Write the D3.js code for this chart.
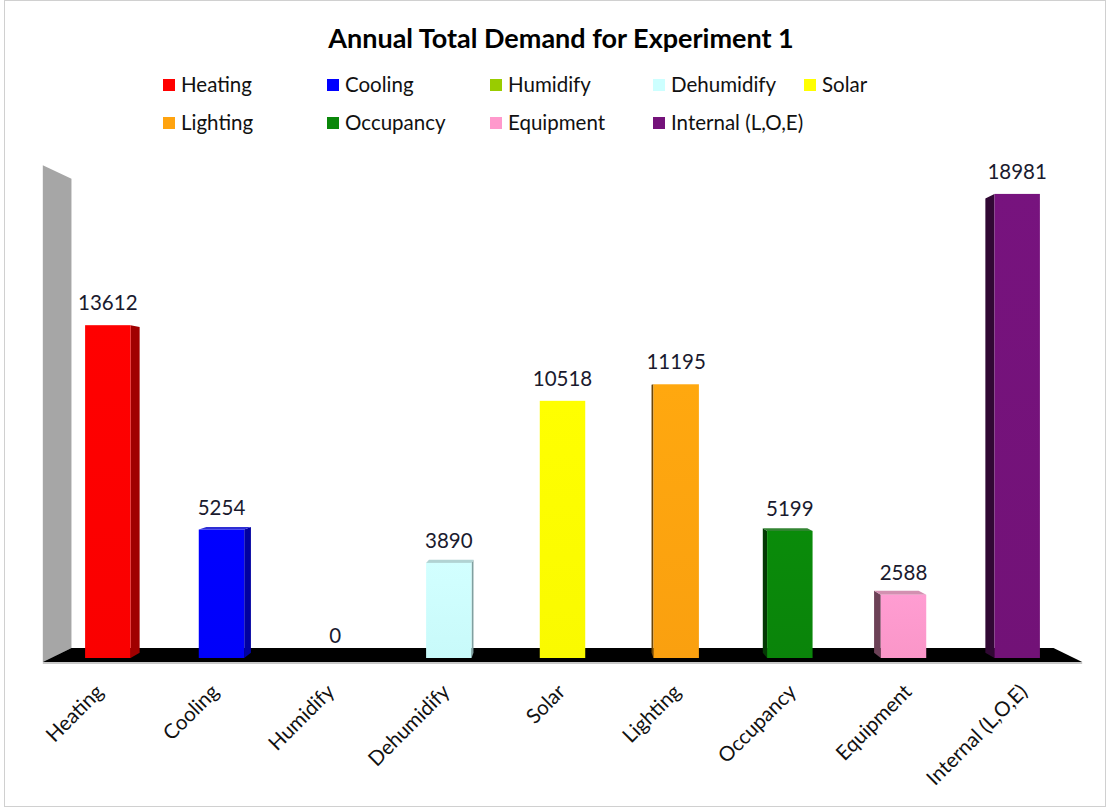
<!DOCTYPE html>
<html>
<head>
<meta charset="utf-8">
<script src="https://cdn.jsdelivr.net/npm/d3@7"></script>
<style>
  body { margin: 0; background: #fff; }
  svg { display: block; font-family: Lato, "Open Sans", sans-serif; }
</style>
</head>
<body>
<script>
// chart data
var categories = ["Heating", "Cooling", "Humidify", "Dehumidify", "Solar", "Lighting", "Occupancy", "Equipment", "Internal (L,O,E)"];
var values = [13612, 5254, 0, 3890, 10518, 11195, 5199, 2588, 18981];
var colors = ["#ff0000", "#0000ff", "#99cc00", "#ccffff", "#ffff00", "#ffa30f", "#0a870a", "#ff99cc", "#74127a"];
var yDomain = [0, 20000];

var w = 1110, h = 808;

var svg = d3.select("body").append("svg")
  .attr("width", w)
  .attr("height", h);

// outer frame
svg.append("rect")
  .attr("x", 4.5).attr("y", 0.5)
  .attr("width", w - 9).attr("height", h - 2)
  .attr("fill", "none")
  .attr("stroke", "#d0d0d0");

svg.append("text")
  .attr("x", 561).attr("y", 48)
  .attr("text-anchor", "middle")
  .attr("font-size", 27)
  .attr("font-weight", "bold")
  .attr("fill", "#000")
  .text("Annual Total Demand for Experiment 1");

// legend, two rows of five / four
var legend = svg.append("g");
var legX = [163, 327, 490, 653, 804];
categories.forEach(function (c, i) {
  var row = i < 5 ? 0 : 1;
  var col = i < 5 ? i : i - 5;
  var g = legend.append("g")
    .attr("transform", "translate(" + legX[col] + "," + (85 + row * 38) + ")");
  g.append("rect")
    .attr("x", 0).attr("y", -6)
    .attr("width", 12).attr("height", 12)
    .attr("fill", colors[i]);
  g.append("text")
    .attr("x", 18).attr("y", 0)
    .attr("dy", "0.35em")
    .attr("font-size", 20.5)
    .attr("fill", "#111")
    .text(c);
});

var x = d3.scaleBand()
  .domain(categories)
  .range([51, 1074])
  .paddingInner(0.6)
  .paddingOuter(0.3);

var y = d3.scaleLinear()
  .domain(yDomain)
  .range([658, 169]);

// simple perspective: points pulled toward vanishing point
var vp = { x: (x.range()[0] + x.range()[1]) / 2, y: 410 };
function proj(px, py, s) {
  return [vp.x + (px - vp.x) * s, vp.y + (py - vp.y) * s];
}
function poly(pts) {
  return "M" + pts.map(function (p) { return p[0] + "," + p[1]; }).join("L") + "Z";
}

var sFront = 1.016, sBack = 0.96, sBar = 0.979;
var x0 = x.range()[0], x1 = x.range()[1];
var y0 = y(0), yTop = y(yDomain[1]);

// side wall (left)
svg.append("path")
  .attr("d", poly([proj(x0, y0, sFront), proj(x0, yTop, sFront), proj(x0, yTop, sBack), proj(x0, y0, sBack)]))
  .attr("fill", "#a6a6a6");

// floor shadow line + floor
var fl = proj(x0, y0, sFront), fr = proj(x1, y0, sFront);
svg.append("path")
  .attr("d", poly([fl, fr, [fr[0], fr[1] + 2], [fl[0], fl[1] + 2]]))
  .attr("fill", "#c8c8c8");
svg.append("path")
  .attr("d", poly([fl, fr, proj(x1, y0, sBack), proj(x0, y0, sBack)]))
  .attr("fill", "#000");

// light vertical gradient on front faces
var defs = svg.append("defs");
colors.forEach(function (c, i) {
  var gr = defs.append("linearGradient")
    .attr("id", "g" + i)
    .attr("x1", 0).attr("y1", 0).attr("x2", 0).attr("y2", 1);
  gr.append("stop").attr("offset", 0).attr("stop-color", d3.color(c).brighter(0.08));
  gr.append("stop").attr("offset", 1).attr("stop-color", d3.color(c).darker(0.06));
});

var bars = svg.append("g");
categories.forEach(function (c, i) {
  var v = values[i];
  if (v <= 0) return;
  var bx0 = x(c), bx1 = x(c) + x.bandwidth();
  var top = y(v), bot = y(0);
  var col = d3.color(colors[i]);
  var g = bars.append("g");
  // visible side
  if (bx1 < vp.x) {
    g.append("path")
      .attr("d", poly([[bx1, top], proj(bx1, top, sBar), proj(bx1, bot, sBar), [bx1, bot]]))
      .attr("fill", col.darker(1.3));
  } else if (bx0 > vp.x) {
    g.append("path")
      .attr("d", poly([[bx0, top], proj(bx0, top, sBar), proj(bx0, bot, sBar), [bx0, bot]]))
      .attr("fill", col.darker(2.4));
  }
  // top face when below eye level
  if (top > vp.y) {
    g.append("path")
      .attr("d", poly([[bx0, top], [bx1, top], proj(bx1, top, sBar), proj(bx0, top, sBar)]))
      .attr("fill", d3.interpolateRgb(colors[i], "#808080")(0.35));
  }
  g.append("rect")
    .attr("x", bx0).attr("y", top)
    .attr("width", x.bandwidth())
    .attr("height", bot - top)
    .attr("fill", "url(#g" + i + ")");
});

// value labels
svg.append("g").selectAll("text")
  .data(categories)
  .join("text")
  .attr("x", function (d) { return x(d) + x.bandwidth() / 2; })
  .attr("y", function (d, i) { return y(values[i]) - 15; })
  .attr("text-anchor", "middle")
  .attr("font-size", 20.5)
  .attr("fill", "#1a1a2e")
  .text(function (d, i) { return values[i]; });

// category labels, rotated, placed at the front edge of the floor
svg.append("g").selectAll("text")
  .data(categories)
  .join("text")
  .attr("transform", function (d) {
    var p = proj(x(d) + x.bandwidth() / 2, y0, sFront);
    return "translate(" + (p[0] - 1) + ",688) rotate(-45)";
  })
  .attr("text-anchor", "end")
  .attr("dy", "0.35em")
  .attr("font-size", 20.5)
  .attr("fill", "#111")
  .text(function (d) { return d; });
</script>
</body>
</html>
